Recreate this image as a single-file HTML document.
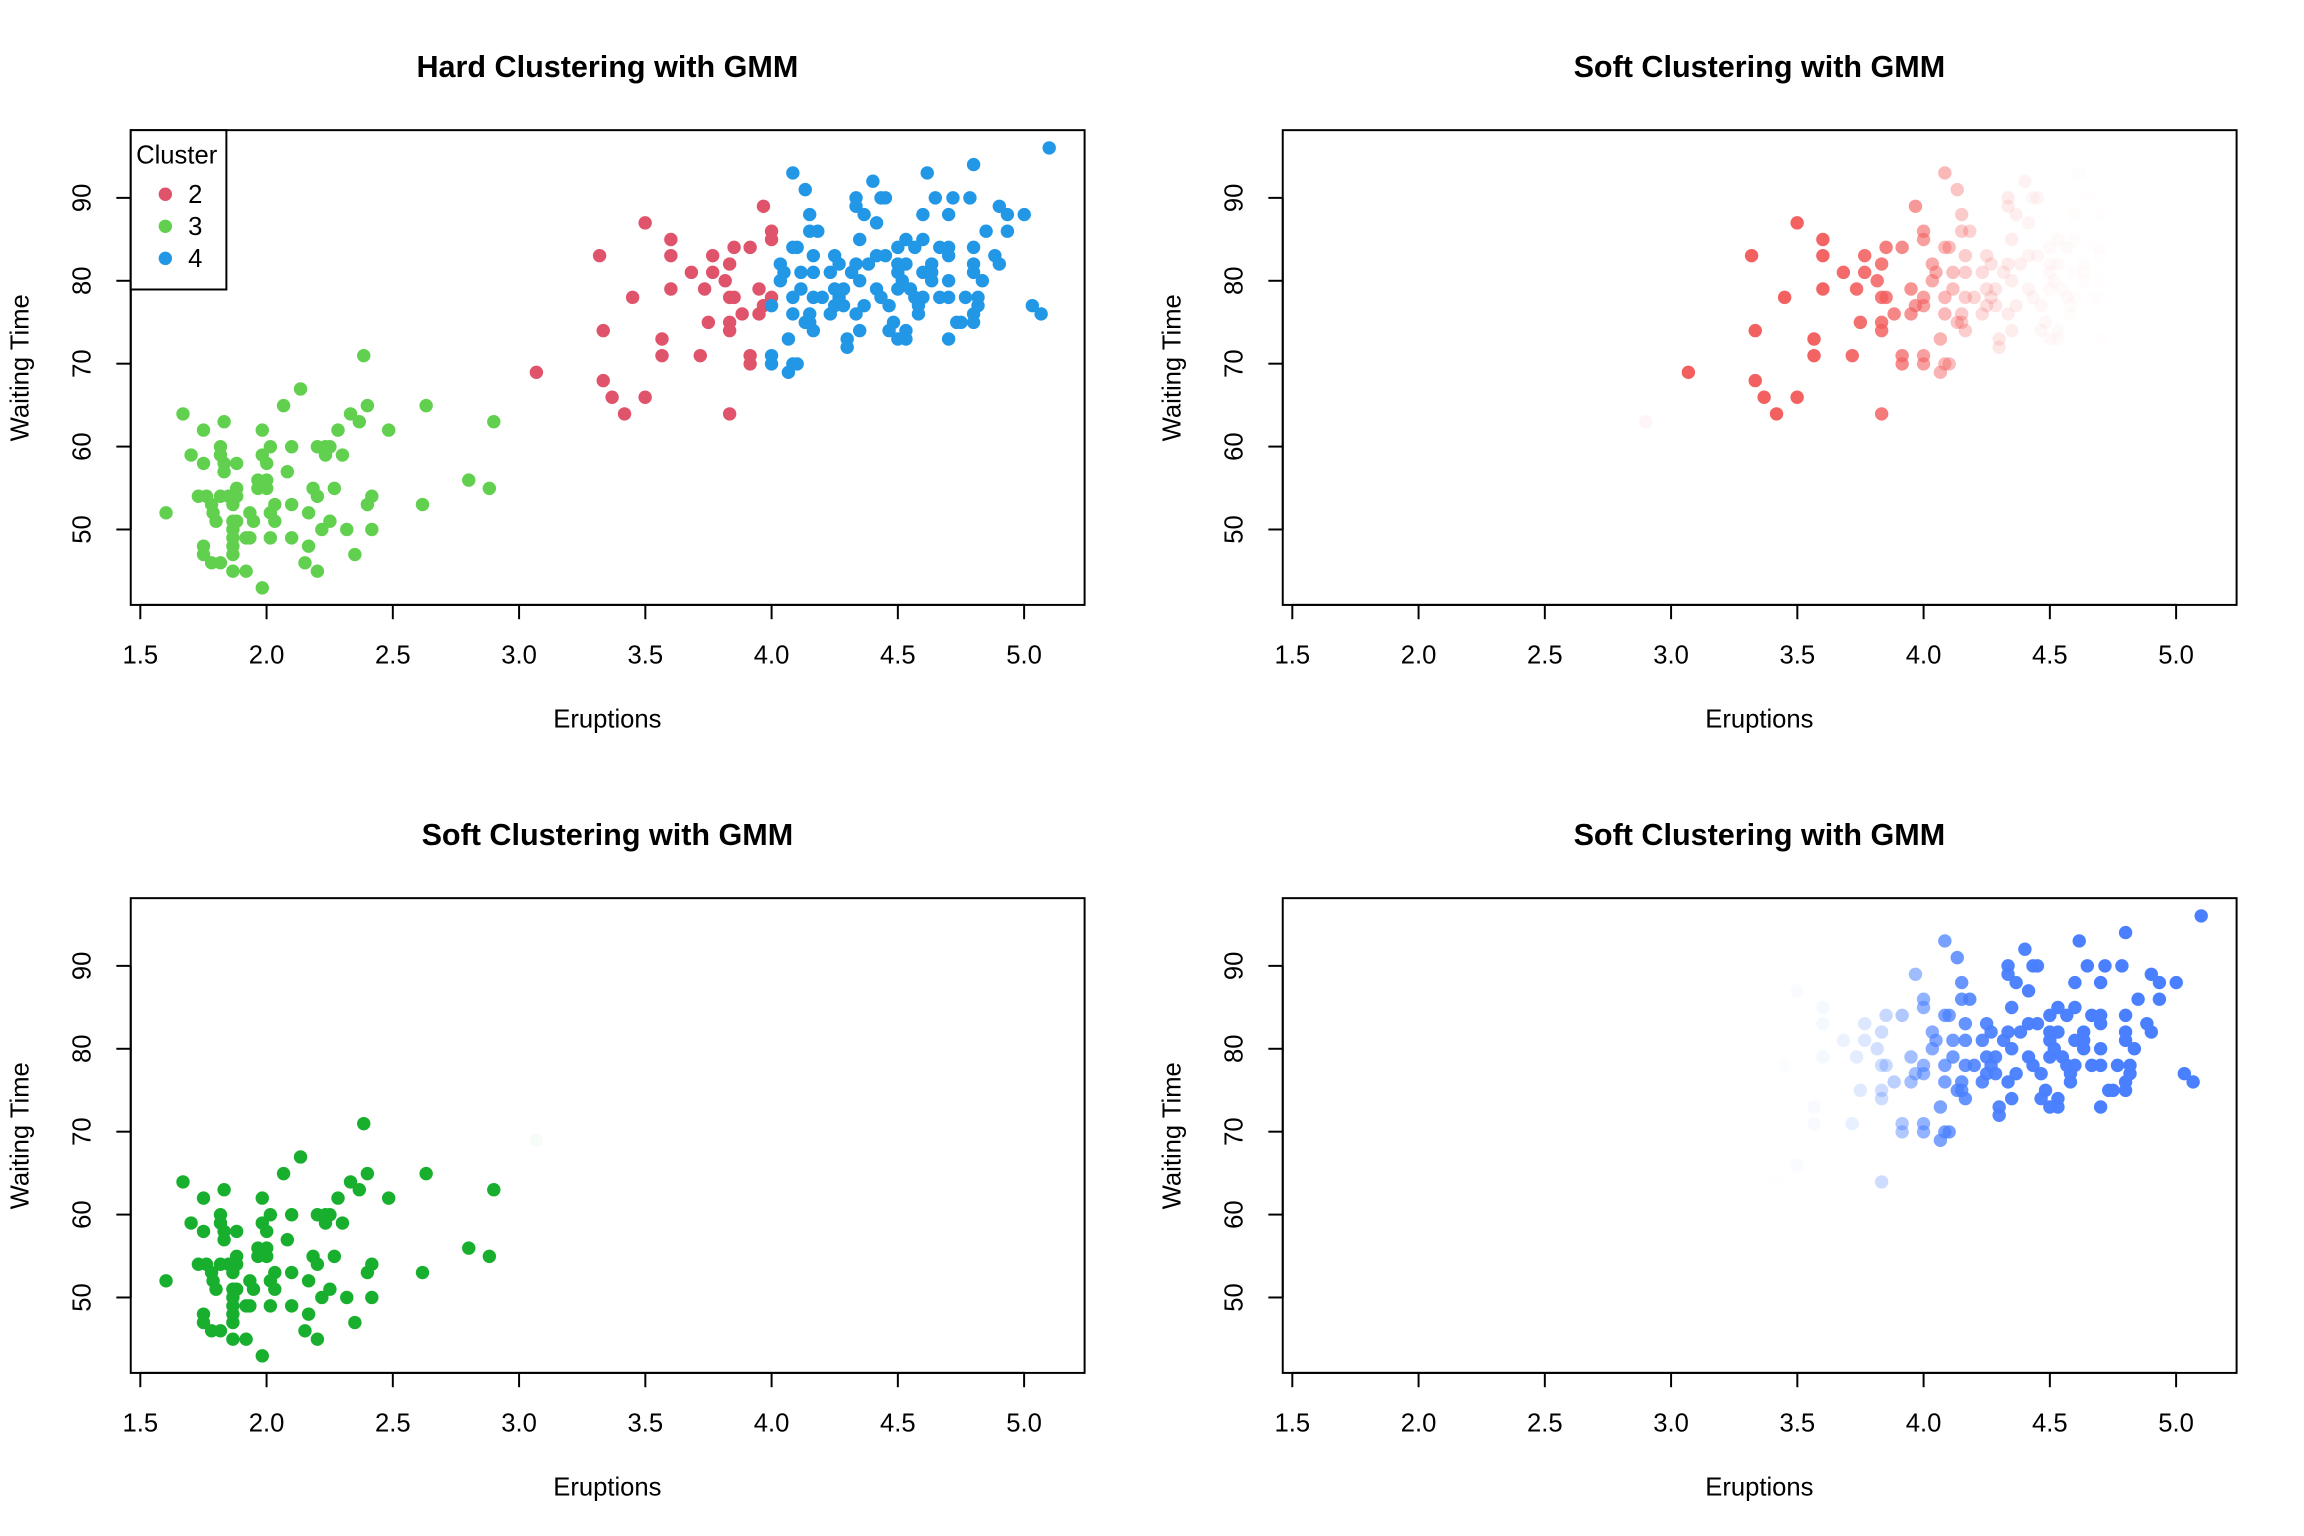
<!DOCTYPE html>
<html><head><meta charset="utf-8">
<style>html,body{margin:0;padding:0;background:#fff;}svg{display:block;}
text{font-family:"Liberation Sans",Arial,sans-serif;fill:#000;}</style></head>
<body>
<svg id="s" xmlns="http://www.w3.org/2000/svg" width="2304" height="1536" viewBox="0 0 2304 1536"></svg>
<script>
var G=[[249,845],[226,1047],[260,929],[277,878],[277,946],[270,1013],[281,1013],[277,1115],[277,1132],[288,1149],[294,1064],[290,1047],[288,1030],[300,912],[300,929],[305,861],[305,963],[305,946],[300,1013],[300,1149],[311,1013],[317,1030],[317,1064],[317,1081],[317,1098],[317,1115],[317,1132],[317,1166],[322,946],[322,997],[322,1013],[322,1064],[335,1166],[335,1098],[340,1047],[345,1064],[340,1098],[351,980],[351,997],[357,878],[357,929],[363,946],[363,980],[363,997],[357,1200],[368,912],[368,1047],[368,1098],[374,1030],[374,1064],[386,828],[391,963],[397,912],[397,1030],[397,1098],[409,794],[415,1149],[420,1047],[420,1115],[426,997],[432,912],[432,1013],[432,1166],[438,1081],[443,912],[443,929],[449,912],[449,1064],[455,997],[460,878],[466,929],[472,1081],[477,845],[483,1132],[489,861],[495,726],[500,828],[500,1030],[506,1013],[506,1081],[529,878],[575,1030],[580,828],[638,980],[666,997],[672,861]];
var R=[[730,760],[816,522],[821,675],[821,777],[833,811],[850,845],[861,607],[878,455],[878,811],[901,692],[901,726],[913,489],[913,522],[913,590],[941,556],[953,726],[959,590],[964,658],[970,522],[970,556],[987,573],[993,539],[993,607],[993,658],[993,675],[993,845],[999,505],[999,607],[1010,641],[1021,505],[1021,726],[1021,743],[1033,590],[1033,641],[1039,421],[1039,624],[1050,472],[1050,489],[1050,607]];
var B=[[1050,624],[1050,726],[1050,743],[1062,539],[1062,573],[1067,556],[1073,692],[1073,760],[1079,353],[1079,505],[1079,607],[1079,641],[1085,505],[1079,743],[1085,743],[1090,590],[1090,556],[1096,387],[1096,658],[1102,438],[1102,472],[1102,641],[1102,658],[1107,522],[1107,556],[1107,607],[1107,675],[1113,472],[1119,607],[1130,556],[1130,641],[1136,522],[1136,590],[1136,624],[1142,539],[1142,607],[1148,590],[1148,624],[1153,692],[1153,709],[1159,556],[1165,404],[1165,421],[1165,539],[1165,641],[1170,489],[1170,573],[1170,675],[1176,438],[1176,624],[1182,539],[1188,370],[1193,455],[1193,522],[1193,590],[1199,404],[1199,607],[1205,404],[1205,522],[1210,624],[1210,675],[1216,658],[1222,505],[1222,539],[1222,556],[1222,590],[1222,692],[1228,573],[1233,489],[1233,539],[1233,675],[1233,692],[1239,590],[1245,505],[1245,607],[1250,624],[1250,641],[1256,438],[1256,489],[1256,556],[1256,607],[1262,353],[1268,539],[1268,556],[1268,573],[1273,404],[1279,505],[1279,607],[1291,438],[1291,505],[1291,522],[1291,573],[1291,607],[1291,692],[1297,404],[1302,658],[1308,658],[1314,607],[1320,404],[1325,336],[1325,505],[1325,539],[1325,556],[1325,641],[1325,658],[1331,607],[1331,624],[1337,573],[1342,472],[1354,522],[1360,421],[1360,539],[1371,438],[1371,472],[1394,438],[1405,624],[1417,641],[1428,302]];
var all=[];G.forEach(function(p){all.push([p[0],p[1],3]);});R.forEach(function(p){all.push([p[0],p[1],2]);});B.forEach(function(p){all.push([p[0],p[1],4]);});
function sig(z){return 1/(1+Math.exp(-z));}
function ev(zx){return 1.5+(zx-191)/343.7;}
var h='';
function panel(ox,oy,title,kind){
 var s='<g transform="translate('+ox+','+oy+') scale(0.986)">';
 s+='<text x="616" y="78" font-size="31" font-weight="bold" text-anchor="middle">'+title+'</text>';
 s+='<text x="616" y="738" font-size="26" text-anchor="middle">Eruptions</text>';
 s+='<text transform="translate(29,373) rotate(-90)" font-size="26" text-anchor="middle">Waiting Time</text>';
 all.forEach(function(p){
  var x=(p[0]*0.7452).toFixed(1),y=(p[1]*0.4968).toFixed(1),e=ev(p[0]),col,a=1;
  if(kind==0){col=p[2]==2?'#DF536B':(p[2]==3?'#61D04F':'#2297E6');}
  else if(kind==1){col='#F35E5E';if(p[2]==3){a=(p[0]==672)?0.06:0;}else{a=1-sig((e-4.05)*7);} }
  else if(kind==2){col='#19AF2E';if(p[2]==3)a=1;else a=e<3.2?0.04:0;}
  else {col='#4A80FF';if(p[2]==3)a=0;else a=sig((e-3.95)*8);}
  if(a<0.01)return;
  s+='<circle cx="'+x+'" cy="'+y+'" r="6.8" fill="'+col+'" fill-opacity="'+a.toFixed(2)+'"/>';
 });
 s+='<rect x="132.6" y="132" width="967.4" height="481.5" fill="none" stroke="#000" stroke-width="2"/>';
 s+='<line x1="142.3" y1="613.5" x2="1038.7" y2="613.5" stroke="#000" stroke-width="2"/>';
 for(var i=0;i<8;i++){var v=1.5+0.5*i,x=142.3+(v-1.5)*256.1;
  s+='<line x1="'+x+'" y1="613.5" x2="'+x+'" y2="628" stroke="#000" stroke-width="2"/>';
  s+='<text x="'+x+'" y="673" font-size="26" text-anchor="middle">'+v.toFixed(1)+'</text>';}
 s+='<line x1="132.6" y1="200.7" x2="132.6" y2="537" stroke="#000" stroke-width="2"/>';
 for(var j=0;j<5;j++){var w=50+10*j,y=537-(w-50)*8.408;
  s+='<line x1="118" y1="'+y+'" x2="132.6" y2="'+y+'" stroke="#000" stroke-width="2"/>';
  s+='<text transform="translate(92,'+y+') rotate(-90)" font-size="26" text-anchor="middle">'+w+'</text>';}
 if(kind==0){
  s+='<rect x="132.6" y="132" width="97" height="161.6" fill="#fff" stroke="#000" stroke-width="2"/>';
  s+='<text x="138" y="166" font-size="26">Cluster</text>';
  var cs=['#DF536B','#61D04F','#2297E6'],ls=['2','3','4'],ys=[197,229.5,262];
  for(var k=0;k<3;k++){s+='<circle cx="167.7" cy="'+ys[k]+'" r="6.8" fill="'+cs[k]+'"/>';
   s+='<text x="198" y="'+(ys[k]+9)+'" font-size="26" text-anchor="middle">'+ls[k]+'</text>';}
 }
 s+='</g>';return s;}
h+=panel(0,0,'Hard Clustering with GMM',0);
h+=panel(1152,0,'Soft Clustering with GMM',1);
h+=panel(0,768,'Soft Clustering with GMM',2);
h+=panel(1152,768,'Soft Clustering with GMM',3);
document.getElementById('s').innerHTML=h;
</script>
</body></html>
